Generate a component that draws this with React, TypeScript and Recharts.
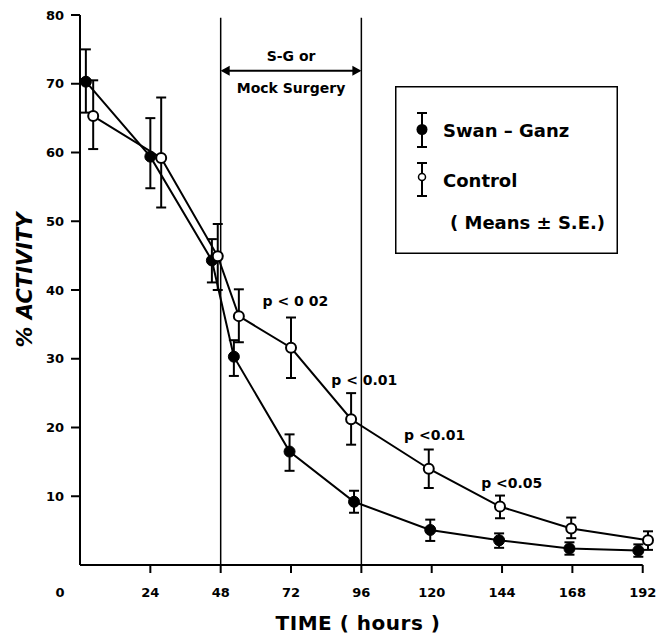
import React from 'react';
import {
  LineChart,
  Line,
  XAxis,
  YAxis,
  ErrorBar,
  ReferenceLine,
  ReferenceDot,
  Legend,
  Label,
} from 'recharts';

const FONT = '"DejaVu Sans", sans-serif';
const INK = '#000000';

// hours, % activity, S.E. below / above the mean
const swanGanzTime = [2, 24, 45, 52.5, 71.5, 93.5, 119.5, 143, 167, 190.5];
const swanGanzMean = [70.3, 59.4, 44.3, 30.3, 16.5, 9.2, 5.1, 3.6, 2.4, 2.1];
const swanGanzSeLow = [4.5, 4.6, 3.2, 2.8, 2.8, 1.6, 1.6, 1.1, 0.9, 0.9];
const swanGanzSeHigh = [4.7, 5.6, 3.1, 2.4, 2.5, 1.6, 1.5, 1.0, 0.9, 0.9];

const controlTime = [4.5, 27.7, 47, 54.2, 72, 92.5, 119, 143.3, 167.6, 193.8];
const controlMean = [65.3, 59.2, 44.9, 36.2, 31.6, 21.2, 14.0, 8.5, 5.3, 3.6];
const controlSeLow = [4.8, 7.2, 4.9, 3.8, 4.4, 3.7, 2.8, 1.7, 1.4, 1.4];
const controlSeHigh = [5.2, 8.8, 4.7, 3.9, 4.4, 3.8, 2.8, 1.6, 1.6, 1.3];

// the origin "0" is written at the corner, so it is not one of the axis ticks
const timeTicks = [24, 48, 72, 96, 120, 144, 168, 192];
const timeAxisEnd = 192;
const activityTicks = [10, 20, 30, 40, 50, 60, 70, 80];

// significance notes, placed in data units
const pNotes = ['p < 0 02', 'p < 0.01', 'p <0.01', 'p <0.05'];
const pNoteTime = [73.5, 97, 121, 147.3];
const pNoteActivity = [38.4, 26.9, 18.9, 11.9];

const surgeryStart = 48;
const surgeryEnd = 96;
const surgeryTop = 79.6;
const surgeryArrowAt = 71.9;

const swanGanz = swanGanzTime.map((t, i) => ({
  time: t,
  activity: swanGanzMean[i],
  se: [swanGanzSeLow[i], swanGanzSeHigh[i]],
}));
const control = controlTime.map((t, i) => ({
  time: t,
  activity: controlMean[i],
  se: [controlSeLow[i], controlSeHigh[i]],
}));

const tickFont = { fontFamily: FONT, fontWeight: 'bold' as const, fontSize: 13, fill: INK };

const ArrowShape = (props: any) => {
  const { x1, y1, x2, y2 } = props;
  return (
    <g>
      <line x1={x1 + 2} y1={y1} x2={x2 - 2} y2={y2} stroke={INK} strokeWidth={2} />
      <path d={`M${x1},${y1} L${x1 + 9},${y1 - 5} L${x1 + 9},${y1 + 5} Z`} fill={INK} />
      <path d={`M${x2},${y2} L${x2 - 9},${y2 - 5} L${x2 - 9},${y2 + 5} Z`} fill={INK} />
    </g>
  );
};

const note = (text: string, size: number) => (props: any) => {
  const { viewBox } = props;
  const cx = viewBox.x + (viewBox.width || 0) / 2;
  const cy = viewBox.y + (viewBox.height || 0) / 2;
  return (
    <text
      x={cx}
      y={cy}
      dy={size * 0.36}
      textAnchor="middle"
      fontFamily={FONT}
      fontWeight="bold"
      fontSize={size}
      fill={INK}
    >
      {text}
    </text>
  );
};

const yTitle = (props: any) => {
  const { viewBox } = props;
  const cx = 24;
  const cy = viewBox.y + viewBox.height / 2 - 10;
  return (
    <text
      x={cx}
      y={cy}
      dy={7.5}
      transform={`rotate(-90 ${cx} ${cy})`}
      textAnchor="middle"
      fontFamily={FONT}
      fontWeight="bold"
      fontStyle="italic"
      fontSize={21}
      fill={INK}
    >
      % ACTIVITY
    </text>
  );
};

const xTitle = (props: any) => {
  const { viewBox } = props;
  return (
    <g>
      <text x={viewBox.x - 20} y={viewBox.y + 23} dy="0.71em" textAnchor="middle" {...tickFont}>
        0
      </text>
      <text
        x={viewBox.x + 278}
        y={viewBox.y + 65}
        textAnchor="middle"
        fontFamily={FONT}
        fontWeight="bold"
        fontSize={20}
        letterSpacing={0.5}
        fill={INK}
      >
        TIME ( hours )
      </text>
    </g>
  );
};

const legendText = { fontFamily: FONT, fontWeight: 'bold' as const, fontSize: 18, fill: INK };

const LegendBox = () => (
  <svg width={223} height={168} style={{ display: 'block' }}>
    <rect x={0.75} y={0.75} width={221.5} height={166.5} fill="#fff" stroke={INK} strokeWidth={1.5} />
    <g stroke={INK} strokeWidth={2}>
      <line x1={27} x2={27} y1={27} y2={61} />
      <line x1={22} x2={32} y1={27} y2={27} />
      <line x1={22} x2={32} y1={61} y2={61} />
      <line x1={27} x2={27} y1={77} y2={110} />
      <line x1={22} x2={32} y1={77} y2={77} />
      <line x1={22} x2={32} y1={110} y2={110} />
    </g>
    <circle cx={27} cy={43.5} r={5.5} fill={INK} />
    <circle cx={27} cy={91} r={3.5} fill="#fff" stroke={INK} strokeWidth={1.5} />
    <text x={48} y={50.5} {...legendText}>Swan – Ganz</text>
    <text x={48} y={101} {...legendText}>Control</text>
    <text x={55} y={142.5} {...legendText}>( Means ± S.E.)</text>
  </svg>
);

export default function App() {
  return (
    <div style={{ position: 'absolute', left: 0, top: 0, background: '#fff' }}>
      <LineChart width={656} height={635} margin={{ top: 15, right: 8, bottom: 0, left: 0 }}>
        <XAxis
          type="number"
          dataKey="time"
          domain={[0, 'dataMax']}
          ticks={timeTicks}
          height={70}
          tickSize={8}
          tickMargin={15}
          tick={tickFont}
          stroke={INK}
          tickLine={{ stroke: INK, strokeWidth: 2 }}
          axisLine={false}
        >
          <Label content={xTitle} />
        </XAxis>
        <YAxis
          type="number"
          dataKey="activity"
          domain={[0, 80]}
          ticks={activityTicks}
          width={80}
          tickSize={9}
          tickMargin={7}
          tick={tickFont}
          stroke={INK}
          tickLine={{ stroke: INK, strokeWidth: 2 }}
          axisLine={{ stroke: INK, strokeWidth: 2 }}
        >
          <Label content={yTitle} />
        </YAxis>
        <Legend
          layout="horizontal"
          verticalAlign="middle"
          align="center"
          content={<LegendBox />}
          wrapperStyle={{ left: 395, top: 86, width: 223, height: 168 }}
        />

        {/* the printed time axis stops at the 192 h tick */}
        <ReferenceLine
          segment={[{ x: 0, y: 0 }, { x: timeAxisEnd, y: 0 }]}
          stroke={INK}
          strokeWidth={2}
        />
        <ReferenceLine
          segment={[{ x: surgeryStart, y: 0 }, { x: surgeryStart, y: surgeryTop }]}
          stroke={INK}
          strokeWidth={1.5}
        />
        <ReferenceLine
          segment={[{ x: surgeryEnd, y: 0 }, { x: surgeryEnd, y: surgeryTop }]}
          stroke={INK}
          strokeWidth={1.5}
        />
        <ReferenceLine
          segment={[{ x: surgeryStart, y: surgeryArrowAt }, { x: surgeryEnd, y: surgeryArrowAt }]}
          shape={ArrowShape}
        />
        <ReferenceDot x={72} y={74} r={0} fill="none" stroke="none" label={note('S-G or', 14)} />
        <ReferenceDot x={72} y={69.4} r={0} fill="none" stroke="none" label={note('Mock Surgery', 14)} />
        {pNotes.map((p, i) => (
          <ReferenceDot
            key={p + i}
            x={pNoteTime[i]}
            y={pNoteActivity[i]}
            r={0}
            fill="none"
            stroke="none"
            label={note(p, 14)}
          />
        ))}

        <Line
          name="Swan – Ganz"
          data={swanGanz}
          dataKey="activity"
          stroke={INK}
          strokeWidth={2}
          dot={{ r: 5.5, fill: INK, stroke: INK, strokeWidth: 1 }}
          activeDot={false}
          isAnimationActive={false}
        >
          <ErrorBar dataKey="se" direction="y" width={5} stroke={INK} strokeWidth={2} />
        </Line>
        <Line
          name="Control"
          data={control}
          dataKey="activity"
          stroke={INK}
          strokeWidth={2}
          dot={{ r: 5, fill: '#fff', stroke: INK, strokeWidth: 2 }}
          activeDot={false}
          isAnimationActive={false}
        >
          <ErrorBar dataKey="se" direction="y" width={5} stroke={INK} strokeWidth={2} />
        </Line>
      </LineChart>
    </div>
  );
}
